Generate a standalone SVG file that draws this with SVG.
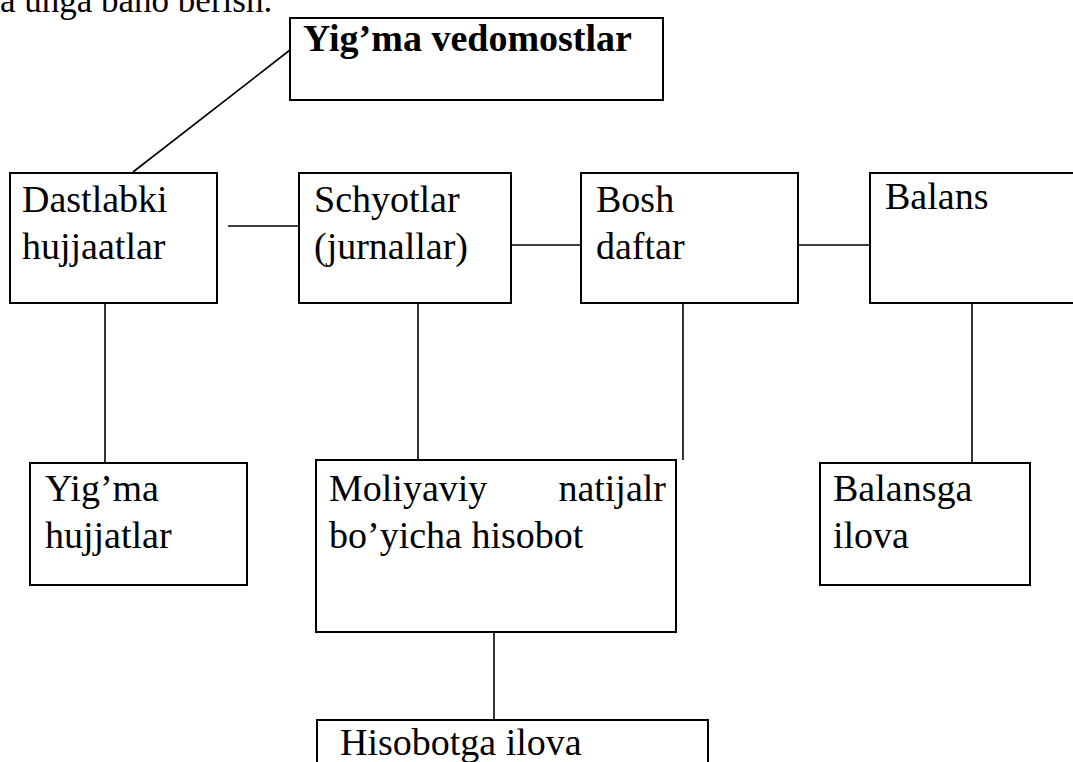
<svg xmlns="http://www.w3.org/2000/svg" width="1073" height="762" viewBox="0 0 1073 762">
<style>
.box{fill:#fff;stroke:#000;stroke-width:2}
.ln{stroke:#000;stroke-width:1.6;fill:none}
text{font-family:"Liberation Serif","Times New Roman",serif;font-size:38px;fill:#000}
.b{font-weight:bold}
.top{font-size:35px}
</style>
<rect width="1073" height="762" fill="#fff"/>
<text class="top" x="0" y="12">a unga baho berish.</text>
<g id="connectors">
<line class="ln" x1="290" y1="50" x2="133" y2="172"/>
<line class="ln" x1="228" y1="226" x2="299" y2="226"/>
<line class="ln" x1="511" y1="245" x2="581" y2="245"/>
<line class="ln" x1="798" y1="245" x2="870" y2="245"/>
<line class="ln" x1="105" y1="293" x2="105" y2="462"/>
<line class="ln" x1="418" y1="293" x2="418" y2="460"/>
<line class="ln" x1="683" y1="293" x2="683" y2="460"/>
<line class="ln" x1="972" y1="293" x2="972" y2="462"/>
<line class="ln" x1="494" y1="630" x2="494" y2="725"/>
</g>
<g id="n-yigma-vedomostlar">
<rect class="box" x="290" y="18" width="373" height="82"/>
<text class="b" x="303" y="51">Yig’ma vedomostlar</text>
</g>
<g id="n-dastlabki">
<rect class="box" x="10" y="173" width="207" height="130"/>
<text x="22" y="212">Dastlabki</text>
<text x="22" y="259">hujjaatlar</text>
</g>
<g id="n-schyotlar">
<rect class="box" x="299" y="173" width="212" height="130"/>
<text x="314" y="212">Schyotlar</text>
<text x="314" y="259">(jurnallar)</text>
</g>
<g id="n-bosh">
<rect class="box" x="581" y="173" width="217" height="130"/>
<text x="596" y="212">Bosh</text>
<text x="596" y="259">daftar</text>
</g>
<g id="n-balans">
<rect class="box" x="870" y="173" width="220" height="130"/>
<text x="885" y="209">Balans</text>
</g>
<g id="n-yigma-hujjatlar">
<rect class="box" x="30" y="463" width="217" height="122"/>
<text x="45" y="501">Yig’ma</text>
<text x="45" y="548">hujjatlar</text>
</g>
<g id="n-moliyaviy">
<rect class="box" x="316" y="460" width="360" height="172"/>
<text x="329" y="501">Moliyaviy</text>
<text x="666" y="501" text-anchor="end">natijalr</text>
<text x="329" y="548">bo’yicha hisobot</text>
</g>
<g id="n-balansga">
<rect class="box" x="820" y="463" width="210" height="122"/>
<text x="833" y="501">Balansga</text>
<text x="833" y="548">ilova</text>
</g>
<g id="n-hisobotga">
<rect class="box" x="317" y="720" width="391" height="60"/>
<text x="340" y="755">Hisobotga ilova</text>
</g>
</svg>
